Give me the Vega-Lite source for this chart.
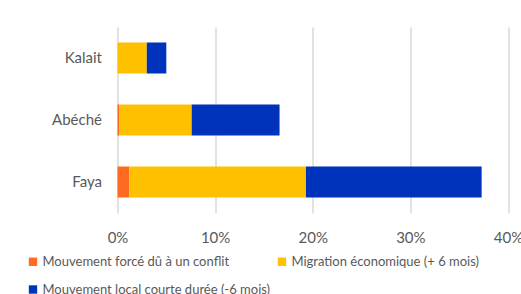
{
  "$schema": "https://vega.github.io/schema/vega-lite/v6.json",
  "autosize": "none",
  "width": 390.5,
  "height": 186,
  "padding": {"left": 117.5, "top": 27, "right": 13, "bottom": 81},
  "background": "white",
  "title": {
    "text": "PROVENANCE DES MOUVEMENTS OBSERVÉS",
    "font": "Lato",
    "fontSize": 16,
    "fontWeight": "bold",
    "color": "#595959",
    "anchor": "middle",
    "dx": -37,
    "baseline": "alphabetic",
    "offset": 22
  },
  "data": {
    "values": [
      {"lieu": "Kalait", "type": "Mouvement forcé dû à un conflit", "ordre": 1, "valeur": 0.0},
      {"lieu": "Kalait", "type": "Migration économique (+ 6 mois)", "ordre": 2, "valeur": 0.030},
      {"lieu": "Kalait", "type": "Mouvement local courte durée (-6 mois)", "ordre": 3, "valeur": 0.020},
      {"lieu": "Abéché", "type": "Mouvement forcé dû à un conflit", "ordre": 1, "valeur": 0.002},
      {"lieu": "Abéché", "type": "Migration économique (+ 6 mois)", "ordre": 2, "valeur": 0.074},
      {"lieu": "Abéché", "type": "Mouvement local courte durée (-6 mois)", "ordre": 3, "valeur": 0.090},
      {"lieu": "Faya", "type": "Mouvement forcé dû à un conflit", "ordre": 1, "valeur": 0.012},
      {"lieu": "Faya", "type": "Migration économique (+ 6 mois)", "ordre": 2, "valeur": 0.181},
      {"lieu": "Faya", "type": "Mouvement local courte durée (-6 mois)", "ordre": 3, "valeur": 0.180}
    ]
  },
  "mark": {"type": "bar"},
  "encoding": {
    "y": {
      "field": "lieu",
      "type": "nominal",
      "sort": ["Kalait", "Abéché", "Faya"],
      "scale": {"paddingInner": 0.5, "paddingOuter": 0.25},
      "axis": {
        "title": null,
        "domain": false,
        "ticks": false,
        "labelFont": "Lato",
        "labelFontSize": 15,
        "labelColor": "#595959",
        "labelPadding": 16
      }
    },
    "x": {
      "field": "valeur",
      "type": "quantitative",
      "stack": "zero",
      "scale": {"domain": [0, 0.4], "nice": false},
      "axis": {
        "title": null,
        "values": [0, 0.1, 0.2, 0.3, 0.4],
        "format": ".0%",
        "domain": false,
        "ticks": false,
        "grid": true,
        "gridColor": "#d9d9d9",
        "gridWidth": 1.5,
        "labelFont": "Lato",
        "labelFontSize": 15,
        "labelColor": "#595959",
        "labelPadding": 17,
        "labelFlush": false
      }
    },
    "color": {
      "field": "type",
      "type": "nominal",
      "sort": ["Mouvement forcé dû à un conflit", "Migration économique (+ 6 mois)", "Mouvement local courte durée (-6 mois)"],
      "scale": {
        "domain": ["Mouvement forcé dû à un conflit", "Migration économique (+ 6 mois)", "Mouvement local courte durée (-6 mois)"],
        "range": ["#FF6A21", "#FFC000", "#0033BB"]
      },
      "legend": {
        "title": null,
        "orient": "none",
        "legendX": -91,
        "legendY": 228,
        "direction": "horizontal",
        "columns": 2,
        "columnPadding": 5,
        "rowPadding": 14,
        "symbolType": "square",
        "symbolSize": 70,
        "symbolStrokeWidth": 0,
        "labelFont": "Lato",
        "labelFontSize": 13,
        "labelColor": "#595959",
        "labelOffset": 3,
        "labelLimit": 400
      }
    },
    "order": {"field": "ordre", "type": "quantitative"}
  },
  "config": {"view": {"stroke": null}}
}
